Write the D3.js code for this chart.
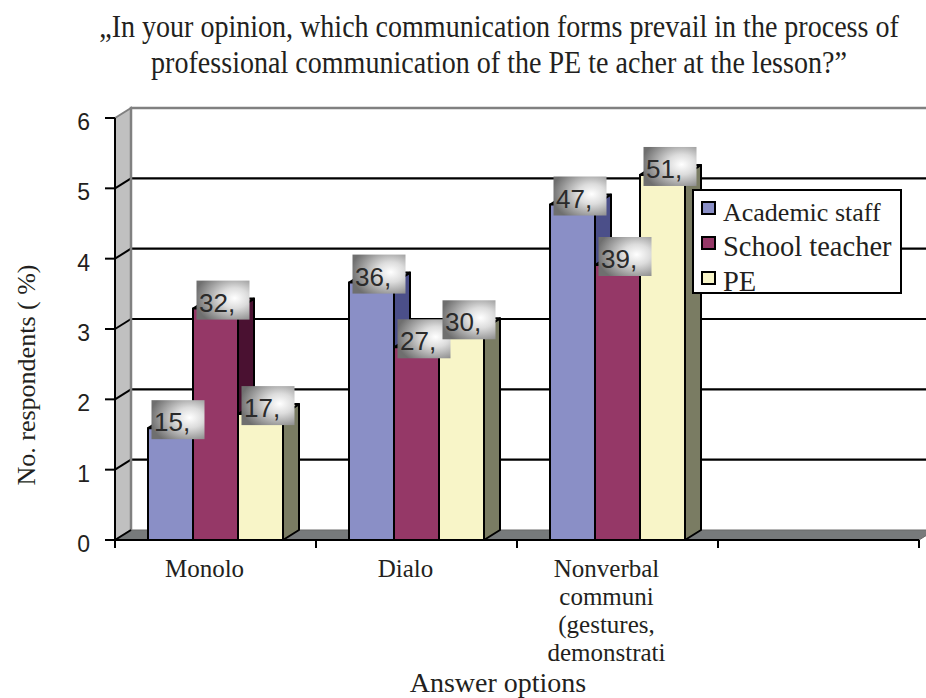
<!DOCTYPE html>
<html>
<head>
<meta charset="utf-8">
<script src="https://cdn.jsdelivr.net/npm/d3@7"></script>
<style>
  html, body { margin: 0; padding: 0; background: #fff; }
  svg { display: block; }
</style>
</head>
<body>
<svg id="chart" width="926" height="698"></svg>
<script>
// Survey answers, share of respondents (%) per group
const categories = ["Monolo", "Dialo", "Nonverbal communi (gestures, demonstrati", ""];
const categoryLines = [["Monolo"], ["Dialo"], ["Nonverbal", "communi", "(gestures,", "demonstrati"], []];
const series = ["Academic staff", "School teacher", "PE"];
const academicStaff = [15.9, 36.6, 47.7];
const schoolTeacher = [32.9, 27.4, 39.1];
const peTeacher = [17.9, 30.1, 51.9];
const yTicks = [0, 10, 20, 30, 40, 50, 60];
const yTickLabels = ["0", "1", "2", "3", "4", "5", "6"];
const titleLines = [
  "\u201EIn your opinion, which communication forms prevail in the process of",
  "professional communication of the PE te acher at the lesson?\u201D"
];
const yTitle = "No. respondents ( %)";
const xTitle = "Answer options";

const SERIF = "'Liberation Serif', 'Times New Roman', Times, serif";
const SANS = "'Liberation Sans', Arial, Helvetica, sans-serif";
const INK = "#231f20";

const seriesValues = [academicStaff, schoolTeacher, peTeacher];
const colors = {
  front: ["#8a8fc6", "#953867", "#f8f5c8"],
  side:  ["#4b4f89", "#4a1131", "#7a7c63"],
  top:   ["#a9acdb", "#b85a88", "#e9e6b8"]
};

const svg = d3.select("#chart");

// 3D projection depth of the plot box
const DX = 16, DY = -10;
const plotLeft = 115, plotRight = 919, plotBottom = 540, plotTop = 118;

const x = d3.scaleBand().domain(d3.range(categories.length)).range([plotLeft, plotRight]);
const xs = d3.scaleBand().domain(series).range([33, x.bandwidth() - 33]);
const y = d3.scaleLinear().domain([0, 60]).range([plotBottom, plotTop]);

// Gradient used behind the value labels
const defs = svg.append("defs");
const grad = defs.append("radialGradient").attr("id", "labelGrad")
  .attr("cx", "72%").attr("cy", "45%").attr("r", "75%");
grad.append("stop").attr("offset", "0%").attr("stop-color", "#ffffff");
grad.append("stop").attr("offset", "35%").attr("stop-color", "#dcdcdc");
grad.append("stop").attr("offset", "100%").attr("stop-color", "#6f6f6f");

// Walls and floor
const g = svg.append("g");
g.append("polygon")
  .attr("points", [[plotLeft, y(60)], [plotLeft + DX, y(60) + DY], [plotLeft + DX, plotBottom + DY], [plotLeft, plotBottom]].join(" "))
  .attr("fill", "#c0c0c0").attr("stroke", "#808080").attr("stroke-width", 2);
g.append("polygon")
  .attr("points", [[plotLeft, plotBottom], [plotLeft + DX, plotBottom + DY], [plotRight + DX, plotBottom + DY], [plotRight, plotBottom]].join(" "))
  .attr("fill", "#777a7b").attr("stroke", "#6a6a6a").attr("stroke-width", 1);

// Gridlines on the back wall and side wall
yTicks.filter(v => v > 0 && v < 60).forEach(v => {
  g.append("line").attr("x1", plotLeft + DX).attr("x2", 936)
    .attr("y1", y(v) + DY).attr("y2", y(v) + DY)
    .attr("stroke", "#000").attr("stroke-width", 2.2);
  g.append("line").attr("x1", plotLeft).attr("x2", plotLeft + DX)
    .attr("y1", y(v)).attr("y2", y(v) + DY)
    .attr("stroke", "#000").attr("stroke-width", 2);
});
// Back wall outline
g.append("polyline")
  .attr("points", [[plotLeft + DX, plotBottom + DY], [plotLeft + DX, y(60) + DY], [936, y(60) + DY]].join(" "))
  .attr("fill", "none").attr("stroke", "#808080").attr("stroke-width", 2.5);
g.append("line").attr("x1", plotLeft).attr("x2", plotLeft + DX)
  .attr("y1", plotBottom).attr("y2", plotBottom + DY)
  .attr("stroke", "#000").attr("stroke-width", 2);

// Bars as 3D boxes: front, right side, top
const bars = [];
categories.forEach((c, ci) => {
  series.forEach((s, si) => {
    const v = seriesValues[si][ci];
    if (v === undefined) return;
    bars.push({ ci, si, v, x0: x(ci) + xs(s), x1: x(ci) + xs(s) + xs.bandwidth(), yT: y(v) });
  });
});

const barG = svg.append("g").attr("stroke", "#000").attr("stroke-width", 2).attr("stroke-linejoin", "round");
bars.forEach(b => {
  barG.append("polygon")
    .attr("points", [[b.x1, b.yT], [b.x1 + DX, b.yT + DY], [b.x1 + DX, plotBottom + DY], [b.x1, plotBottom]].join(" "))
    .attr("fill", colors.side[b.si]);
  barG.append("polygon")
    .attr("points", [[b.x0, b.yT], [b.x0 + DX, b.yT + DY], [b.x1 + DX, b.yT + DY], [b.x1, b.yT]].join(" "))
    .attr("fill", colors.top[b.si]);
  barG.append("rect")
    .attr("x", b.x0).attr("y", b.yT).attr("width", b.x1 - b.x0).attr("height", plotBottom - b.yT)
    .attr("fill", colors.front[b.si]);
});

// Axes
const axG = svg.append("g").attr("stroke", "#000").attr("stroke-width", 2);
axG.append("line").attr("x1", plotLeft).attr("x2", plotLeft).attr("y1", y(60)).attr("y2", plotBottom);
axG.append("line").attr("x1", plotLeft).attr("x2", plotRight).attr("y1", plotBottom).attr("y2", plotBottom);
yTicks.forEach(v => {
  axG.append("line").attr("x1", plotLeft - 10).attr("x2", plotLeft).attr("y1", y(v)).attr("y2", y(v));
});
d3.range(categories.length + 1).forEach(i => {
  const xx = i < categories.length ? x(i) : plotRight;
  axG.append("line").attr("x1", xx).attr("x2", xx).attr("y1", plotBottom).attr("y2", plotBottom + 8);
});

svg.append("g").selectAll("text").data(yTicks).join("text")
  .attr("font-family", SANS).attr("fill", INK)
  .attr("x", 90).attr("y", d => y(d) + 12)
  .attr("text-anchor", "end").attr("font-size", 23)
  .text((d, i) => yTickLabels[i]);

// Category labels
categoryLines.forEach((lines, ci) => {
  lines.forEach((line, li) => {
    svg.append("text").attr("font-family", SERIF).attr("fill", INK)
      .attr("x", x(ci) + x.bandwidth() / 2 - 11).attr("y", 577 + li * 28)
      .attr("text-anchor", "middle").attr("font-size", 25)
      .text(line);
  });
});

// Value labels
const labG = svg.append("g");
bars.forEach(b => {
  const cx = (b.x0 + b.x1) / 2 + 7.5;
  const top = b.yT - 28;
  labG.append("rect").attr("x", cx - 26.5).attr("y", top).attr("width", 53).attr("height", 39)
    .attr("fill", "url(#labelGrad)");
  labG.append("text").attr("font-family", SANS).attr("fill", "#2a2a2a")
    .attr("x", cx - 24).attr("y", top + 31).attr("font-size", 26)
    .text(Math.floor(b.v) + ",");
});

// Legend
const lg = svg.append("g").attr("transform", "translate(693,190)");
lg.append("rect").attr("width", 208).attr("height", 103).attr("fill", "#fff")
  .attr("stroke", "#000").attr("stroke-width", 2);
series.forEach((s, i) => {
  lg.append("rect").attr("x", 9).attr("y", 12 + i * 35).attr("width", 13).attr("height", 12)
    .attr("fill", colors.front[i]).attr("stroke", "#000").attr("stroke-width", 2);
  lg.append("text").attr("font-family", SERIF).attr("fill", INK)
    .attr("x", 30).attr("y", 31 + i * 35).attr("font-size", i === 0 ? 26 : 28.5)
    .text(s);
});

// Title: two centred lines, set in a condensed serif
const titleWidths = [800, 696];
titleLines.forEach((t, i) => {
  const holder = svg.append("g");
  const txt = holder.append("text").attr("font-family", SERIF).attr("fill", INK)
    .attr("x", 0).attr("y", 0)
    .attr("text-anchor", "middle").attr("font-size", 31)
    .text(t);
  const natural = txt.node().getComputedTextLength();
  const sx = titleWidths[i] / natural;
  holder.attr("transform", `translate(499,${37 + i * 36}) scale(${sx},1)`);
});
svg.append("text").attr("font-family", SERIF).attr("fill", INK)
  .attr("transform", "translate(35,375) rotate(-90)")
  .attr("text-anchor", "middle").attr("font-size", 26)
  .text(yTitle);
svg.append("text").attr("font-family", SERIF).attr("fill", INK)
  .attr("x", 498).attr("y", 692)
  .attr("text-anchor", "middle").attr("font-size", 28)
  .text(xTitle);
</script>
</body>
</html>
